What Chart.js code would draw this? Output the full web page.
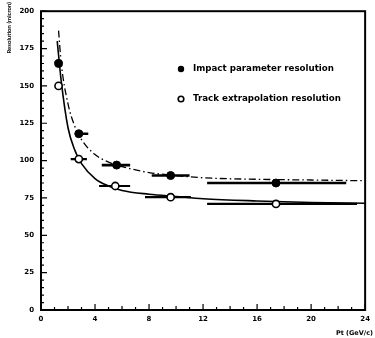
<!DOCTYPE html>
<html>
<head>
<meta charset="utf-8">
<script src="https://cdn.jsdelivr.net/npm/chart.js@4.4.1/dist/chart.umd.min.js"></script>
<style>
  html, body { margin: 0; padding: 0; background: #fff; }
  #wrap { width: 375px; height: 338px; position: relative; }
</style>
</head>
<body>
<div id="wrap"><canvas id="resChart"></canvas></div>
<script>
// measured points (Pt in GeV/c, resolution in micron)
const ptImpact = [1.3, 2.8, 5.6, 9.6, 17.4];
const resImpact = [165, 118, 97, 90, 85];
const ptImpactLo = [1.2, 2.5, 4.5, 8.2, 12.3];
const ptImpactHi = [1.4, 3.5, 6.6, 11.0, 22.6];

const ptTrack = [1.3, 2.8, 5.5, 9.6, 17.4];
const resTrack = [150, 101, 83, 75.5, 71];
const ptTrackLo = [1.2, 2.2, 4.3, 7.7, 12.3];
const ptTrackHi = [1.4, 3.4, 6.6, 11.1, 23.4];

// fitted curves
const fitImpactPt = [1.3, 1.5, 2, 2.5, 3, 4, 5, 6, 8, 10, 12, 16, 20, 24];
const fitImpactRes = [187, 165, 138, 123, 114, 104, 99, 96, 92, 90, 88.5, 87.5, 87, 86.5];
const fitTrackPt = [1.2, 1.5, 2, 2.5, 3, 4, 5, 6, 8, 10, 12, 16, 20, 24];
const fitTrackRes = [180, 153, 122, 107, 98, 88, 83, 80, 77.5, 76, 74.5, 73, 72, 71.5];

const xTicks = [0, 4, 8, 12, 16, 20, 24];
const yTicks = [0, 25, 50, 75, 100, 125, 150, 175, 200];

const legendLabels = ['Impact parameter resolution', 'Track extrapolation resolution'];
const xTitle = 'Pt (GeV/c)';
const yTitle = 'Resolution (micron)';

const FONT = '"DejaVu Sans", Lato, sans-serif';

function errBars(pts, lo, hi, res, width) {
    // one small line dataset per horizontal error bar
    return pts.map((p, i) => ({
        type: 'line',
        data: [{ x: lo[i], y: res[i] }, { x: hi[i], y: res[i] }],
        borderColor: '#000',
        borderWidth: width,
        pointRadius: 0,
        fill: false,
        order: 3
    }));
}

// inward ticks, full frame, legend and axis titles
const framePlugin = {
    id: 'frame',
    afterDraw(chart) {
        const ctx = chart.ctx;
        const a = chart.chartArea;
        const xs = chart.scales.x, ys = chart.scales.y;
        ctx.save();
        ctx.strokeStyle = '#000';
        ctx.lineWidth = 2;
        ctx.strokeRect(a.left, a.top, a.right - a.left, a.bottom - a.top);

        ctx.lineWidth = 1.2;
        ctx.beginPath();
        for (let v = 0; v <= 200; v += 5) {
            const y = ys.getPixelForValue(v);
            const len = v % 25 === 0 ? 6 : 3;
            ctx.moveTo(a.left, y); ctx.lineTo(a.left + len, y);
        }
        for (let v = 0; v <= 24; v += 1) {
            const x = xs.getPixelForValue(v);
            const len = v % 4 === 0 ? 6 : (v % 2 === 0 ? 4 : 3);
            ctx.moveTo(x, a.bottom); ctx.lineTo(x, a.bottom - len);
        }
        ctx.stroke();

        // legend
        const lx = 181, ly = [69, 99];
        ctx.fillStyle = '#000';
        ctx.beginPath(); ctx.arc(lx, ly[0], 3.2, 0, Math.PI * 2); ctx.fill();
        ctx.lineWidth = 1.6;
        ctx.beginPath(); ctx.arc(lx, ly[1], 2.8, 0, Math.PI * 2); ctx.stroke();
        ctx.font = 'bold 8.7px ' + FONT;
        ctx.textBaseline = 'middle';
        ctx.textAlign = 'left';
        ctx.fillText(legendLabels[0], 193, ly[0]);
        ctx.fillText(legendLabels[1], 193, ly[1]);

        // axis titles
        ctx.font = 'bold 6.5px ' + FONT;
        ctx.textAlign = 'right';
        ctx.textBaseline = 'alphabetic';
        ctx.fillText(xTitle, 373, 335);

        ctx.translate(9, 2);
        ctx.rotate(-Math.PI / 2);
        ctx.font = 'bold 6px Lato, sans-serif';
        ctx.textAlign = 'right';
        ctx.textBaseline = 'middle';
        ctx.fillText(yTitle, 0, 0);
        ctx.restore();
    }
};

function initChart() {
    const ctx = document.getElementById('resChart').getContext('2d');

    new Chart(ctx, {
        type: 'scatter',
        data: {
            datasets: [
                {
                    label: legendLabels[0],
                    data: ptImpact.map((p, i) => ({ x: p, y: resImpact[i] })),
                    backgroundColor: '#000',
                    borderColor: '#000',
                    pointRadius: 4,
                    pointBorderWidth: 1,
                    order: 1
                },
                {
                    label: legendLabels[1],
                    data: ptTrack.map((p, i) => ({ x: p, y: resTrack[i] })),
                    backgroundColor: '#fff',
                    borderColor: '#000',
                    pointRadius: 3.6,
                    pointBorderWidth: 1.6,
                    order: 1
                },
                {
                    type: 'line',
                    data: fitImpactPt.map((p, i) => ({ x: p, y: fitImpactRes[i] })),
                    borderColor: '#000',
                    borderWidth: 1.3,
                    borderDash: [7, 3, 1.5, 3],
                    pointRadius: 0,
                    cubicInterpolationMode: 'monotone',
                    fill: false,
                    order: 2
                },
                {
                    type: 'line',
                    data: fitTrackPt.map((p, i) => ({ x: p, y: fitTrackRes[i] })),
                    borderColor: '#000',
                    borderWidth: 1.6,
                    pointRadius: 0,
                    cubicInterpolationMode: 'monotone',
                    fill: false,
                    order: 2
                },
                ...errBars(ptImpact, ptImpactLo, ptImpactHi, resImpact, 2.6),
                ...errBars(ptTrack, ptTrackLo, ptTrackHi, resTrack, 2.2)
            ]
        },
        options: {
            responsive: true,
            maintainAspectRatio: false,
            animation: false,
            layout: { padding: { top: 10, right: 3, left: 0, bottom: 0 } },
            plugins: {
                legend: { display: false },
                tooltip: { enabled: false }
            },
            scales: {
                x: {
                    type: 'linear', min: 0, max: 24,
                    afterFit: s => { s.height = 28; },
                    afterBuildTicks: s => { s.ticks = xTicks.map(v => ({ value: v })); },
                    grid: { display: false, drawTicks: false },
                    border: { display: false },
                    ticks: {
                        color: '#000', padding: 5,
                        font: { family: FONT, size: 7, weight: 'bold' }
                    }
                },
                y: {
                    type: 'linear', min: 0, max: 200,
                    afterFit: s => { s.width = 41; },
                    afterBuildTicks: s => { s.ticks = yTicks.map(v => ({ value: v })); },
                    grid: { display: false, drawTicks: false },
                    border: { display: false },
                    ticks: {
                        color: '#000', padding: 7,
                        font: { family: FONT, size: 7, weight: 'bold' }
                    }
                }
            }
        },
        plugins: [framePlugin]
    });
}

document.addEventListener('DOMContentLoaded', initChart);
</script>
</body>
</html>
